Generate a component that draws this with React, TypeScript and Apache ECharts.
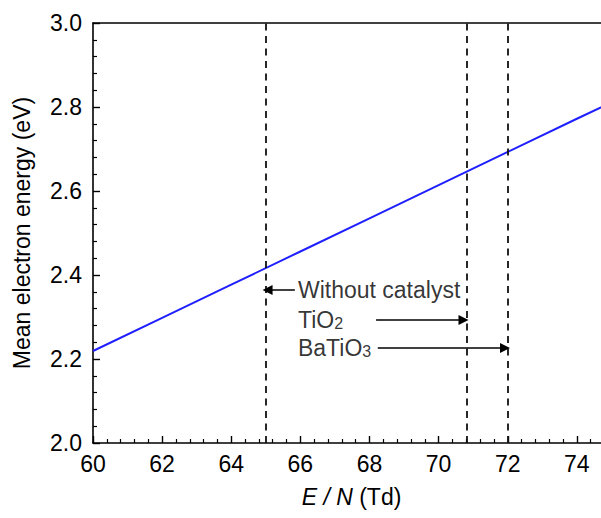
import React, { useEffect, useRef } from "react";
import * as echarts from "echarts";

const eOverN = [60, 62, 64, 66, 68, 70, 72, 74, 75];
const meanEnergy = [2.219, 2.298, 2.377, 2.456, 2.535, 2.614, 2.693, 2.772, 2.811];
const markerPositions = [65, 70.8, 72];
const xTickLabels = ["60", "62", "64", "66", "68", "70", "72", "74"];
const yTickLabels = ["2.0", "2.2", "2.4", "2.6", "2.8", "3.0"];

// annotation arrows in data units
const arrowFrom = [
  [65.84, 2.364],
  [68.19, 2.293],
  [68.24, 2.226],
];
const arrowTo = [
  [65.05, 2.364],
  [70.72, 2.293],
  [71.92, 2.226],
];
const annotationTexts = ["Without catalyst", "TiO{sub|2}", "BaTiO{sub|3}"];
const annotationAnchors = [
  [65.93, 2.364],
  [65.93, 2.293],
  [65.93, 2.226],
];

const FONT = "'Liberation Sans', Arial, sans-serif";
const FS = 23;

export default function App() {
  const ref = useRef<HTMLDivElement>(null);
  useEffect(() => {
    if (!ref.current) return;
    const chart = echarts.init(ref.current, null, { renderer: "svg" });
    const option: any = {
      animation: false,
      backgroundColor: "#ffffff",
      grid: { left: 93, top: 23, bottom: 75, right: -45, containLabel: false, outerBoundsMode: "none" },
      xAxis: [
        {
          type: "value",
          min: 60,
          max: 76,
          interval: 2,
          position: "bottom",
          name: "{i|E} {i|/} {i|N} (Td)",
          nameLocation: "middle",
          nameGap: 42,
          nameTextStyle: {
            fontFamily: FONT,
            fontSize: FS,
            color: "#000",
            padding: [0, 36, 0, 0],
            rich: {
              i: { fontFamily: FONT, fontSize: FS, fontStyle: "italic", color: "#000" },
            },
          },
          axisLine: { show: true, onZero: false, lineStyle: { color: "#000", width: 1.6 } },
          axisTick: { show: true, inside: true, length: 7, lineStyle: { color: "#000", width: 1.4 } },
          minorTick: { show: true, splitNumber: 5, length: 4, lineStyle: { color: "#000", width: 1.2 } },
          splitLine: { show: false },
          axisLabel: {
            margin: 9,
            fontFamily: FONT,
            fontSize: FS,
            color: "#000",
            formatter: (v: number) => {
              const s = String(Math.round(v));
              return xTickLabels.includes(s) ? s : "";
            },
          },
        },
        {
          type: "value",
          min: 60,
          max: 76,
          position: "top",
          axisLine: { show: true, onZero: false, lineStyle: { color: "#000", width: 1.6 } },
          axisTick: { show: false },
          axisLabel: { show: false },
          splitLine: { show: false },
        },
      ],
      yAxis: {
        type: "value",
        min: 2.0,
        max: 3.0,
        interval: 0.2,
        name: "Mean electron energy (eV)",
        nameLocation: "middle",
        nameGap: 60,
        nameTextStyle: { fontFamily: FONT, fontSize: FS, color: "#000" },
        axisLine: { show: true, onZero: false, lineStyle: { color: "#000", width: 1.6 } },
        axisTick: { show: true, inside: true, length: 7, lineStyle: { color: "#000", width: 1.4 } },
        minorTick: { show: true, splitNumber: 5, length: 4, lineStyle: { color: "#000", width: 1.2 } },
        splitLine: { show: false },
        axisLabel: {
          margin: 11,
          fontFamily: FONT,
          fontSize: FS,
          color: "#000",
          formatter: (v: number) => {
            const s = v.toFixed(1);
            return yTickLabels.includes(s) ? s : "";
          },
        },
      },
      series: [
        {
          type: "line",
          name: "Mean electron energy",
          xAxisIndex: 0,
          data: eOverN.map((x, i) => [x, meanEnergy[i]]),
          showSymbol: false,
          symbol: "none",
          lineStyle: { color: "#1f1fff", width: 2 },
          markLine: {
            silent: true,
            symbol: ["none", "none"],
            label: { show: false },
            lineStyle: { color: "#111", width: 1.8, type: [7, 5.5] },
            data: markerPositions.map((x) => ({ xAxis: x })),
          },
        },
        {
          type: "line",
          name: "arrows",
          xAxisIndex: 0,
          data: [],
          markLine: {
            silent: true,
            symbol: ["none", "triangle"],
            symbolSize: 10,
            label: { show: false },
            itemStyle: { color: "#000" },
            lineStyle: { color: "#000", width: 1.5, type: "solid" },
            data: arrowFrom.map((f, i) => [
              { coord: f },
              { coord: arrowTo[i] },
            ]),
          },
        },
        {
          type: "scatter",
          name: "annotations",
          xAxisIndex: 0,
          symbolSize: 0,
          silent: true,
          data: annotationAnchors.map((a, i) => ({ value: a, name: annotationTexts[i] })),
          label: {
            show: true,
            position: "right",
            distance: 0,
            formatter: (p: any) => p.name,
            fontFamily: FONT,
            fontSize: FS,
            color: "#000",
            rich: {
              sub: { fontFamily: FONT, fontSize: 16, color: "#000", verticalAlign: "bottom", padding: [7, 0, 0, 0] },
            },
          },
        },
      ],
    };
    chart.setOption(option);
    return () => chart.dispose();
  }, []);
  return (
    <div
      ref={ref}
      style={{ position: "fixed", left: 0, top: 0, width: 601, height: 518, background: "#fff" }}
    />
  );
}
